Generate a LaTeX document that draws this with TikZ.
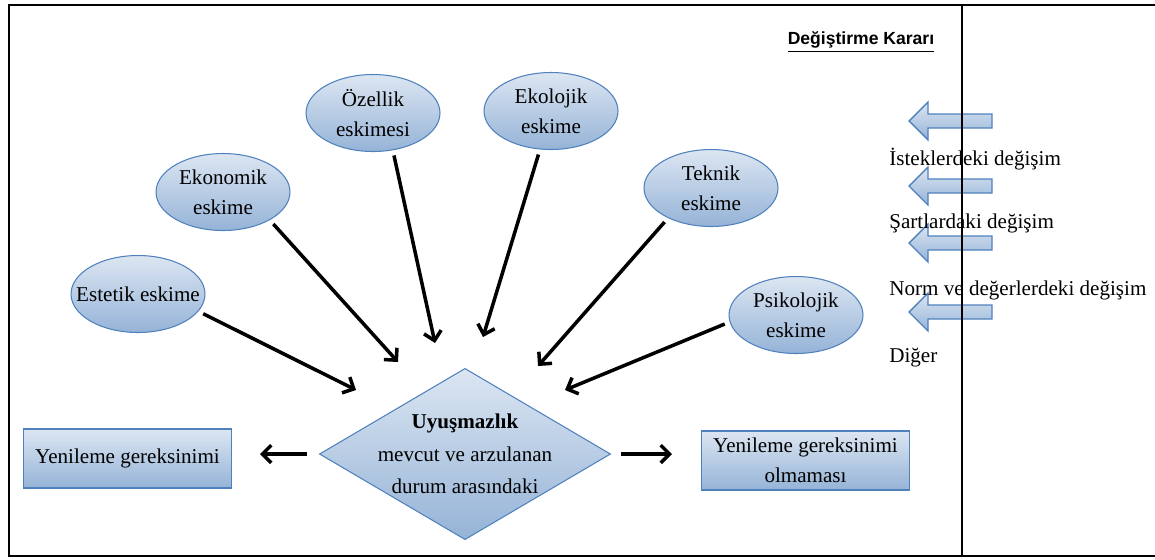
\documentclass[tikz,border=0pt]{standalone}
\usepackage{fontspec}
\setmainfont{Liberation Serif}
\newfontfamily\arialfont{Liberation Sans}
\usepackage{tikz}
\usetikzlibrary{arrows}
\usetikzlibrary{arrows.meta}
\usetikzlibrary{calc}
\usetikzlibrary{shapes.geometric}

\definecolor{eskiTop}{HTML}{DCE6F2}
\definecolor{eskiBot}{HTML}{95B3D7}
\definecolor{eskiEdge}{HTML}{4F81BD}

\begin{document}
\begin{tikzpicture}[
    x=0.02cm, y=-0.02cm,
    font=\fontsize{12}{17}\selectfont,
    eskime/.style={ellipse, draw=eskiEdge, line width=0.6pt,
      top color=eskiTop, bottom color=eskiBot, align=center,
      inner xsep=-12pt, inner ysep=0pt,
      minimum width=2.68cm, minimum height=1.54cm},
    sonuc/.style={rectangle, draw=eskiEdge, line width=0.6pt,
      top color=eskiTop, bottom color=eskiBot, align=center,
      minimum width=4.16cm, minimum height=1.18cm},
    kalin/.style={-{Straight Barb[length=5pt, width=10pt]}, line width=2pt}]

    \useasboundingbox (0, 0) rectangle (1155, 559);

    \node [eskime] (est) at (138, 294) {Estetik eskime};
    \node [eskime] (eko) at (223, 192) {Ekonomik\\eskime};
    \node [eskime] (oze) at (373, 113) {Özellik\\eskimesi};
    \node [eskime] (ekl) at (551, 111) {Ekolojik\\eskime};
    \node [eskime] (tek) at (711, 188) {Teknik\\eskime};
    \node [eskime] (psi) at (796, 315) {Psikolojik\\eskime};

    \node [diamond, draw=eskiEdge, line width=0.6pt, top color=eskiTop,
    bottom color=eskiBot, inner sep=-2pt, aspect=1.7, align=center,
    font=\fontsize{12}{18.5}\selectfont,
    minimum width=5.72cm, minimum height=3.36cm] (dia) at (465, 454)
    {\bfseries Uyuşmazlık\\mevcut ve arzulanan\\durum arasındaki};

    \node [sonuc] (lbox) at (127.5, 458.5) {Yenileme gereksinimi};
    \node [sonuc] (rbox) at (805.5, 460.5) {Yenileme gereksinimi\\olmaması};

    \node [font=\arialfont\bfseries\fontsize{10}{12}\selectfont] (karar)
    at (861, 42) {\underline{Değiştirme Kararı}};

    % arrow tips near the diamond
    \coordinate (uc-est) at (356, 390);
    \coordinate (uc-eko) at (398, 362);
    \coordinate (uc-oze) at (435, 343);
    \coordinate (uc-ekl) at (483, 337);
    \coordinate (uc-tek) at (538, 366);
    \coordinate (uc-psi) at (565, 390);

    \draw [kalin, shorten <=3pt] (est.-16) -- (uc-est);
    \draw [kalin, shorten <=3pt] (eko.-31) -- (uc-eko);
    \draw [kalin, shorten <=3pt] (oze.-62) -- (uc-oze);
    \draw [kalin, shorten <=3pt] (ekl.-106) -- (uc-ekl);
    \draw [kalin, shorten <=3pt] (tek.-145) -- (uc-tek);
    \draw [kalin, shorten <=3pt] (psi.-174) -- (uc-psi);

    \draw [kalin, shorten <=0.24cm, shorten >=0.56cm]
    (dia.west) -- (dia.west -| lbox.east);
    \draw [kalin, shorten <=0.2cm, shorten >=0.58cm]
    (dia.east) -- (dia.east -| rbox.west);

    % block arrows on the right
    \foreach \yy in {121, 186, 243, 312}
    \draw [draw=eskiEdge, line width=0.8pt, top color=eskiTop,
    bottom color=eskiBot] (992, \yy-7) -- (928, \yy-7) -- (928, \yy-19)
    -- (909, \yy) -- (928, \yy+19) -- (928, \yy+7) -- (992, \yy+7) -- cycle;

    \foreach \i/\yy/\txt in {1/160/İsteklerdeki değişim,
      2/223/Şartlardaki değişim, 3/290/Norm ve değerlerdeki değişim,
      4/357/Diğer}
    \node [anchor=west, inner sep=0pt, text height=8pt, text depth=2pt]
    (deg\i) at (889, \yy) {\txt};

    \draw [line width=1pt] (9, 5) rectangle (962, 556);
    \draw [line width=0.6pt] (962, 5) -- (1155, 5);
    \draw [line width=1pt] (962, 556) -- (1155, 556);

  \end{tikzpicture}
\end{document}
